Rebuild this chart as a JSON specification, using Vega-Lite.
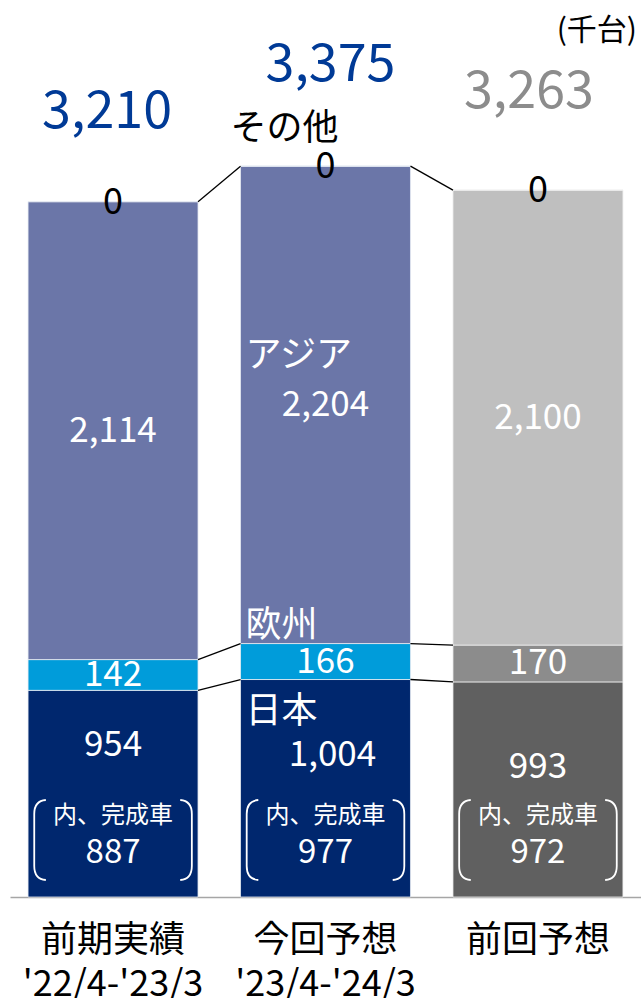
{
  "$schema": "https://vega.github.io/schema/vega-lite/v6.json",
  "width": 631,
  "height": 897,
  "autosize": "none",
  "padding": {"left": 10, "top": 0, "right": 0, "bottom": 101},
  "background": "white",
  "config": {
    "view": {"stroke": null},
    "font": "Noto Sans CJK JP",
    "axisX": {
      "labelExpr": "split(datum.value, '|')",
      "labelFontSize": 36,
      "labelLineHeight": 44,
      "labelPadding": 26,
      "labelColor": "#000000",
      "labelLimit": 400,
      "labelAngle": 0,
      "ticks": false,
      "domainColor": "#a6a6a6",
      "domainWidth": 1.5,
      "grid": false
    }
  },
  "title": {
    "text": "(千台)",
    "anchor": "end",
    "orient": "top",
    "frame": "group",
    "offset": -46,
    "dx": -4,
    "fontSize": 30,
    "fontWeight": "normal",
    "color": "#000000"
  },
  "data": {
    "values": [
      {"cat": "前期実績|'22/4-'23/3", "pord": 1, "series": "日本", "sord": 1, "value": 954, "complete": 887, "total": 3210},
      {"cat": "前期実績|'22/4-'23/3", "pord": 1, "series": "欧州", "sord": 2, "value": 142, "total": 3210},
      {"cat": "前期実績|'22/4-'23/3", "pord": 1, "series": "アジア", "sord": 3, "value": 2114, "total": 3210},
      {"cat": "前期実績|'22/4-'23/3", "pord": 1, "series": "その他", "sord": 4, "value": 0, "total": 3210},
      {"cat": "今回予想|'23/4-'24/3", "pord": 2, "series": "日本", "sord": 1, "value": 1004, "complete": 977, "total": 3375},
      {"cat": "今回予想|'23/4-'24/3", "pord": 2, "series": "欧州", "sord": 2, "value": 166, "total": 3375},
      {"cat": "今回予想|'23/4-'24/3", "pord": 2, "series": "アジア", "sord": 3, "value": 2204, "total": 3375},
      {"cat": "今回予想|'23/4-'24/3", "pord": 2, "series": "その他", "sord": 4, "value": 0, "total": 3375},
      {"cat": "前回予想", "pord": 3, "series": "日本", "sord": 1, "value": 993, "complete": 972, "total": 3263},
      {"cat": "前回予想", "pord": 3, "series": "欧州", "sord": 2, "value": 170, "total": 3263},
      {"cat": "前回予想", "pord": 3, "series": "アジア", "sord": 3, "value": 2100, "total": 3263},
      {"cat": "前回予想", "pord": 3, "series": "その他", "sord": 4, "value": 0, "total": 3263}
    ]
  },
  "layer": [
    {
      "transform": [{"filter": "datum.pord < 3"}],
      "mark": {"type": "bar", "stroke": "#e6ebf3", "strokeWidth": 0.8},
      "encoding": {
        "x": {"field": "cat", "type": "nominal", "title": null, "scale": {"domain": ["前期実績|'22/4-'23/3", "今回予想|'23/4-'24/3", "前回予想"], "paddingInner": 0.2, "paddingOuter": 0.085}},
        "y": {"field": "value", "type": "quantitative", "stack": "zero", "scale": {"domain": [0, 4141], "nice": false}, "axis": null},
        "order": {"field": "sord", "type": "quantitative"},
        "color": {"field": "series", "type": "nominal", "legend": null, "scale": {"domain": ["日本", "欧州", "アジア", "その他"], "range": ["#00276E", "#009CDA", "#6B76A8", "#6B76A8"]}}
      }
    },
    {
      "transform": [{"filter": "datum.pord == 3"}],
      "mark": {"type": "bar", "stroke": "#eeeeee", "strokeWidth": 0.8},
      "encoding": {
        "x": {"field": "cat", "type": "nominal", "title": null, "scale": {"domain": ["前期実績|'22/4-'23/3", "今回予想|'23/4-'24/3", "前回予想"], "paddingInner": 0.2, "paddingOuter": 0.085}},
        "y": {"field": "value", "type": "quantitative", "stack": "zero", "scale": {"domain": [0, 4141], "nice": false}, "axis": null},
        "order": {"field": "sord", "type": "quantitative"},
        "color": {"field": "series", "type": "nominal", "legend": null, "scale": {"domain": ["日本", "欧州", "アジア", "その他"], "range": ["#606060", "#8C8C8C", "#BFBFBF", "#BFBFBF"]}}
      }
    },
    {
      "transform": [
        {"stack": "value", "groupby": ["cat"], "sort": [{"field": "sord", "order": "ascending"}], "as": ["y0", "y1"]},
        {"filter": "datum.sord < 4"},
        {"window": [{"op": "lead", "field": "cat", "as": "nextCat"}, {"op": "lead", "field": "y1", "as": "nextY"}], "groupby": ["series"], "sort": [{"field": "pord", "order": "ascending"}]},
        {"filter": "datum.nextCat != null"}
      ],
      "mark": {"type": "rule", "color": "#000000", "strokeWidth": 1.3},
      "encoding": {
        "x": {"field": "cat", "type": "nominal", "title": null, "bandPosition": 1},
        "x2": {"field": "nextCat", "bandPosition": 0},
        "y": {"field": "y1", "type": "quantitative", "scale": {"domain": [0, 4141], "nice": false}, "axis": null},
        "y2": {"field": "nextY"}
      }
    },
    {
      "mark": {"type": "text", "color": "#ffffff", "fontSize": 35, "baseline": "middle"},
      "encoding": {
        "x": {"field": "cat", "type": "nominal", "title": null},
        "y": {"field": "value", "type": "quantitative", "stack": "zero", "bandPosition": 0.5, "scale": {"domain": [0, 4141], "nice": false}, "axis": null},
        "order": {"field": "sord", "type": "quantitative"},
        "detail": {"field": "series", "type": "nominal"},
        "text": {"condition": {"test": "datum.sord == 2 || datum.sord == 3", "field": "value", "type": "quantitative", "format": ","}, "value": ""}
      }
    },
    {
      "transform": [
        {"stack": "value", "groupby": ["cat"], "sort": [{"field": "sord", "order": "ascending"}], "as": ["y0", "y1"]},
        {"filter": "datum.sord == 4"}
      ],
      "mark": {"type": "text", "color": "#000000", "fontSize": 36, "baseline": "middle", "dy": 1},
      "encoding": {
        "x": {"field": "cat", "type": "nominal", "title": null},
        "y": {"field": "y1", "type": "quantitative", "scale": {"domain": [0, 4141], "nice": false}, "axis": null},
        "text": {"field": "value", "type": "quantitative", "format": ","}
      }
    },
    {
      "transform": [
        {"stack": "value", "groupby": ["cat"], "sort": [{"field": "sord", "order": "ascending"}], "as": ["y0", "y1"]},
        {"filter": "datum.sord == 1 && datum.pord == 1"}
      ],
      "mark": {"type": "text", "color": "#ffffff", "fontSize": 35, "baseline": "middle", "dy": 55},
      "encoding": {
        "x": {"field": "cat", "type": "nominal", "title": null},
        "y": {"field": "y1", "type": "quantitative", "scale": {"domain": [0, 4141], "nice": false}, "axis": null},
        "text": {"field": "value", "type": "quantitative", "format": ","}
      }
    },
    {
      "transform": [
        {"stack": "value", "groupby": ["cat"], "sort": [{"field": "sord", "order": "ascending"}], "as": ["y0", "y1"]},
        {"filter": "datum.sord == 1 && datum.pord == 2"}
      ],
      "mark": {"type": "text", "color": "#ffffff", "fontSize": 35, "baseline": "middle", "dy": 75, "dx": 7},
      "encoding": {
        "x": {"field": "cat", "type": "nominal", "title": null},
        "y": {"field": "y1", "type": "quantitative", "scale": {"domain": [0, 4141], "nice": false}, "axis": null},
        "text": {"field": "value", "type": "quantitative", "format": ","}
      }
    },
    {
      "transform": [
        {"stack": "value", "groupby": ["cat"], "sort": [{"field": "sord", "order": "ascending"}], "as": ["y0", "y1"]},
        {"filter": "datum.sord == 1 && datum.pord == 3"}
      ],
      "mark": {"type": "text", "color": "#ffffff", "fontSize": 35, "baseline": "middle", "dy": 85},
      "encoding": {
        "x": {"field": "cat", "type": "nominal", "title": null},
        "y": {"field": "y1", "type": "quantitative", "scale": {"domain": [0, 4141], "nice": false}, "axis": null},
        "text": {"field": "value", "type": "quantitative", "format": ","}
      }
    },
    {
      "transform": [
        {"stack": "value", "groupby": ["cat"], "sort": [{"field": "sord", "order": "ascending"}], "as": ["y0", "y1"]},
        {"filter": "datum.sord == 4 && datum.pord == 1"}
      ],
      "mark": {"type": "text", "color": "#003A96", "fontSize": 52, "baseline": "middle", "dy": -90, "dx": -6},
      "encoding": {
        "x": {"field": "cat", "type": "nominal", "title": null},
        "y": {"field": "y1", "type": "quantitative", "scale": {"domain": [0, 4141], "nice": false}, "axis": null},
        "text": {"field": "total", "type": "quantitative", "format": ","}
      }
    },
    {
      "transform": [
        {"stack": "value", "groupby": ["cat"], "sort": [{"field": "sord", "order": "ascending"}], "as": ["y0", "y1"]},
        {"filter": "datum.sord == 4 && datum.pord == 2"}
      ],
      "mark": {"type": "text", "color": "#003A96", "fontSize": 52, "baseline": "middle", "dy": -101, "dx": 5},
      "encoding": {
        "x": {"field": "cat", "type": "nominal", "title": null},
        "y": {"field": "y1", "type": "quantitative", "scale": {"domain": [0, 4141], "nice": false}, "axis": null},
        "text": {"field": "total", "type": "quantitative", "format": ","}
      }
    },
    {
      "transform": [
        {"stack": "value", "groupby": ["cat"], "sort": [{"field": "sord", "order": "ascending"}], "as": ["y0", "y1"]},
        {"filter": "datum.sord == 4 && datum.pord == 3"}
      ],
      "mark": {"type": "text", "color": "#8C8C8C", "fontSize": 52, "baseline": "middle", "dy": -98, "dx": -9},
      "encoding": {
        "x": {"field": "cat", "type": "nominal", "title": null},
        "y": {"field": "y1", "type": "quantitative", "scale": {"domain": [0, 4141], "nice": false}, "axis": null},
        "text": {"field": "total", "type": "quantitative", "format": ","}
      }
    },
    {
      "transform": [
        {"stack": "value", "groupby": ["cat"], "sort": [{"field": "sord", "order": "ascending"}], "as": ["y0", "y1"]},
        {"filter": "datum.pord == 2 && datum.sord == 4"}
      ],
      "mark": {"type": "text", "color": "#000000", "fontSize": 36, "baseline": "middle", "align": "left", "dy": -37, "dx": -10},
      "encoding": {
        "x": {"field": "cat", "type": "nominal", "title": null, "bandPosition": 0},
        "y": {"field": "y1", "type": "quantitative", "scale": {"domain": [0, 4141], "nice": false}, "axis": null},
        "text": {"field": "series", "type": "nominal"}
      }
    },
    {
      "transform": [
        {"stack": "value", "groupby": ["cat"], "sort": [{"field": "sord", "order": "ascending"}], "as": ["y0", "y1"]},
        {"filter": "datum.pord == 2 && datum.sord == 3"}
      ],
      "mark": {"type": "text", "color": "#ffffff", "fontSize": 36, "baseline": "middle", "align": "left", "dy": 190, "dx": 5},
      "encoding": {
        "x": {"field": "cat", "type": "nominal", "title": null, "bandPosition": 0},
        "y": {"field": "y1", "type": "quantitative", "scale": {"domain": [0, 4141], "nice": false}, "axis": null},
        "text": {"field": "series", "type": "nominal"}
      }
    },
    {
      "transform": [
        {"stack": "value", "groupby": ["cat"], "sort": [{"field": "sord", "order": "ascending"}], "as": ["y0", "y1"]},
        {"filter": "datum.pord == 2 && datum.sord == 2"}
      ],
      "mark": {"type": "text", "color": "#ffffff", "fontSize": 36, "baseline": "middle", "align": "left", "dy": -18, "dx": 5},
      "encoding": {
        "x": {"field": "cat", "type": "nominal", "title": null, "bandPosition": 0},
        "y": {"field": "y1", "type": "quantitative", "scale": {"domain": [0, 4141], "nice": false}, "axis": null},
        "text": {"field": "series", "type": "nominal"}
      }
    },
    {
      "transform": [
        {"stack": "value", "groupby": ["cat"], "sort": [{"field": "sord", "order": "ascending"}], "as": ["y0", "y1"]},
        {"filter": "datum.pord == 2 && datum.sord == 1"}
      ],
      "mark": {"type": "text", "color": "#ffffff", "fontSize": 36, "baseline": "middle", "align": "left", "dy": 32, "dx": 5},
      "encoding": {
        "x": {"field": "cat", "type": "nominal", "title": null, "bandPosition": 0},
        "y": {"field": "y1", "type": "quantitative", "scale": {"domain": [0, 4141], "nice": false}, "axis": null},
        "text": {"field": "series", "type": "nominal"}
      }
    },
    {
      "transform": [
        {"stack": "value", "groupby": ["cat"], "sort": [{"field": "sord", "order": "ascending"}], "as": ["y0", "y1"]},
        {"filter": "datum.sord == 1"}
      ],
      "mark": {"type": "point", "filled": false, "color": "#ffffff", "strokeWidth": 1.8, "opacity": 1, "size": 6400, "shape": "M -1.68 -1 Q -1.97 -0.98 -1.97 -0.65 L -1.97 0.65 Q -1.97 0.98 -1.68 1 M 1.68 -1 Q 1.97 -0.98 1.97 -0.65 L 1.97 0.65 Q 1.97 0.98 1.68 1"},
      "encoding": {
        "x": {"field": "cat", "type": "nominal", "title": null},
        "y": {"field": "y0", "type": "quantitative", "scale": {"domain": [0, 4141], "nice": false}, "axis": null},
        "yOffset": {"value": -57}
      }
    },
    {
      "transform": [
        {"stack": "value", "groupby": ["cat"], "sort": [{"field": "sord", "order": "ascending"}], "as": ["y0", "y1"]},
        {"filter": "datum.sord == 1"}
      ],
      "mark": {"type": "text", "color": "#ffffff", "fontSize": 24, "baseline": "middle", "dy": -81, "text": "内、完成車"},
      "encoding": {
        "x": {"field": "cat", "type": "nominal", "title": null},
        "y": {"field": "y0", "type": "quantitative", "scale": {"domain": [0, 4141], "nice": false}, "axis": null}
      }
    },
    {
      "transform": [
        {"stack": "value", "groupby": ["cat"], "sort": [{"field": "sord", "order": "ascending"}], "as": ["y0", "y1"]},
        {"filter": "datum.sord == 1"}
      ],
      "mark": {"type": "text", "color": "#ffffff", "fontSize": 33, "baseline": "middle", "dy": -44},
      "encoding": {
        "x": {"field": "cat", "type": "nominal", "title": null},
        "y": {"field": "y0", "type": "quantitative", "scale": {"domain": [0, 4141], "nice": false}, "axis": null},
        "text": {"field": "complete", "type": "quantitative", "format": ","}
      }
    }
  ],
  "resolve": {"scale": {"color": "independent"}}
}
